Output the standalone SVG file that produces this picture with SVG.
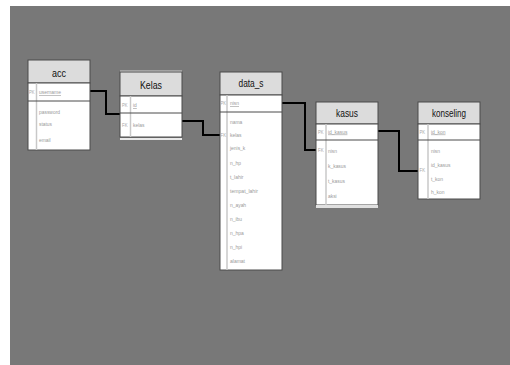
<svg xmlns="http://www.w3.org/2000/svg" width="510" height="365" viewBox="0 0 510 365">
<style>
.bg{fill:#787878}
.hd{fill:#dcdcdc;stroke:#4a4a4a;stroke-width:1}
.bd{fill:#ffffff;stroke:#4a4a4a;stroke-width:1}
.sep{stroke:#c8c8c8;stroke-width:1.5}
.ln{stroke:#4a4a4a;stroke-width:1}
.ht{font-family:"Liberation Sans Narrow","Liberation Sans",Arial,sans-serif;font-size:11px;fill:#111;text-anchor:middle}
.ft{font-family:"Liberation Sans Narrow","Liberation Sans",Arial,sans-serif;font-size:6px;fill:#9a9a9a}
.kt{font-family:"Liberation Sans Narrow","Liberation Sans",Arial,sans-serif;font-size:5px;fill:#a8a8a8}
.u{text-decoration:underline}
.cn{fill:none;stroke:#000;stroke-width:2}
</style>
<rect class="bg" x="10" y="6" width="500" height="359"/>
<g id="connectors">
<polyline class="cn" points="90,91 106,91 106,114 120,114"/>
<polyline class="cn" points="182,121 203,121 203,135 220,135"/>
<polyline class="cn" points="282,103 305,103 305,150 316,150"/>
<polyline class="cn" points="378,131 399,131 399,171 418,171"/>
</g>
<g id="acc">
<rect class="hd" x="28" y="60" width="62" height="23"/>
<text class="ht" x="59" y="77" textLength="14" lengthAdjust="spacingAndGlyphs">acc</text>
<rect class="bd" x="28" y="83" width="62" height="67"/>
<line class="sep" x1="36.5" y1="83" x2="36.5" y2="150"/>
<line class="ln" x1="28" y1="101" x2="90" y2="101"/>
<text class="kt" x="29" y="94" textLength="5.5" lengthAdjust="spacingAndGlyphs">PK</text>
<text class="ft u" x="39" y="94" textLength="22" lengthAdjust="spacingAndGlyphs">username</text>
<text class="ft" x="39" y="113.5" textLength="21" lengthAdjust="spacingAndGlyphs">password</text>
<text class="ft" x="39" y="126" textLength="13" lengthAdjust="spacingAndGlyphs">status</text>
<text class="ft" x="39" y="142" textLength="11.7" lengthAdjust="spacingAndGlyphs">email</text>
</g>
<g id="Kelas">
<rect x="120" y="70.5" width="62" height="2" fill="#d0d0d0"/>
<rect class="hd" x="120" y="72" width="62" height="24"/>
<text class="ht" x="151" y="89" textLength="22" lengthAdjust="spacingAndGlyphs">Kelas</text>
<rect class="bd" x="120" y="96" width="62" height="41"/>
<line class="sep" x1="130.5" y1="96" x2="130.5" y2="137"/>
<line class="ln" x1="120" y1="113" x2="182" y2="113"/>
<rect x="120" y="138" width="62" height="2" fill="#e8e8e8"/>
<text class="kt" x="122" y="107" textLength="5.5" lengthAdjust="spacingAndGlyphs">PK</text>
<text class="ft u" x="133" y="107" textLength="3.8" lengthAdjust="spacingAndGlyphs">id</text>
<text class="kt" x="122" y="127" textLength="5.5" lengthAdjust="spacingAndGlyphs">FK</text>
<text class="ft" x="133" y="127" textLength="11.5" lengthAdjust="spacingAndGlyphs">kelas</text>
</g>
<g id="data_s">
<rect class="hd" x="220" y="72" width="62" height="23"/>
<text class="ht" x="251" y="87" textLength="25" lengthAdjust="spacingAndGlyphs">data_s</text>
<rect class="bd" x="220" y="95" width="62" height="175"/>
<line class="sep" x1="227" y1="95" x2="227" y2="270"/>
<line class="ln" x1="220" y1="112" x2="282" y2="112"/>
<text class="kt" x="220.5" y="105" textLength="5.5" lengthAdjust="spacingAndGlyphs">PK</text>
<text class="ft u" x="230" y="105" textLength="9" lengthAdjust="spacingAndGlyphs">nisn</text>
<text class="ft" x="230" y="123.5" textLength="12.3" lengthAdjust="spacingAndGlyphs">nama</text>
<text class="kt" x="220.5" y="137" textLength="5.5" lengthAdjust="spacingAndGlyphs">FK</text>
<text class="ft" x="230" y="137" textLength="11.5" lengthAdjust="spacingAndGlyphs">kelas</text>
<text class="ft" x="230" y="150" textLength="15.3" lengthAdjust="spacingAndGlyphs">jenis_k</text>
<text class="ft" x="230" y="165" textLength="10.9" lengthAdjust="spacingAndGlyphs">n_hp</text>
<text class="ft" x="230" y="178.5" textLength="13.4" lengthAdjust="spacingAndGlyphs">t_lahir</text>
<text class="ft" x="230" y="192.5" textLength="28" lengthAdjust="spacingAndGlyphs">tempat_lahir</text>
<text class="ft" x="230" y="207" textLength="16.1" lengthAdjust="spacingAndGlyphs">n_ayah</text>
<text class="ft" x="230" y="221" textLength="12" lengthAdjust="spacingAndGlyphs">n_ibu</text>
<text class="ft" x="230" y="235" textLength="13.7" lengthAdjust="spacingAndGlyphs">n_hpa</text>
<text class="ft" x="230" y="249" textLength="12" lengthAdjust="spacingAndGlyphs">n_hpi</text>
<text class="ft" x="230" y="262.5" textLength="15" lengthAdjust="spacingAndGlyphs">alamat</text>
</g>
<g id="kasus">
<rect class="hd" x="316" y="102" width="62" height="22"/>
<text class="ht" x="347" y="116.5" textLength="22" lengthAdjust="spacingAndGlyphs">kasus</text>
<rect class="bd" x="316" y="124" width="62" height="81"/>
<line class="sep" x1="326" y1="124" x2="326" y2="205"/>
<line class="ln" x1="316" y1="140" x2="378" y2="140"/>
<rect x="316" y="205" width="62" height="3" fill="#e0e0e0"/>
<text class="kt" x="318" y="133.5" textLength="5.5" lengthAdjust="spacingAndGlyphs">PK</text>
<text class="ft u" x="328" y="133.5" textLength="19.4" lengthAdjust="spacingAndGlyphs">id_kasus</text>
<text class="kt" x="318" y="152" textLength="5.5" lengthAdjust="spacingAndGlyphs">FK</text>
<text class="ft" x="328" y="153" textLength="9" lengthAdjust="spacingAndGlyphs">nisn</text>
<text class="ft" x="328" y="168" textLength="18" lengthAdjust="spacingAndGlyphs">k_kasus</text>
<text class="ft" x="328" y="182.5" textLength="16.9" lengthAdjust="spacingAndGlyphs">t_kasus</text>
<text class="ft" x="328" y="197.5" textLength="8.7" lengthAdjust="spacingAndGlyphs">aksi</text>
</g>
<g id="konseling">
<rect class="hd" x="418" y="102" width="62" height="22"/>
<text class="ht" x="449" y="116.5" textLength="34" lengthAdjust="spacingAndGlyphs">konseling</text>
<rect class="bd" x="418" y="124" width="62" height="75"/>
<line class="sep" x1="428" y1="124" x2="428" y2="199"/>
<line class="ln" x1="418" y1="140" x2="480" y2="140"/>
<text class="kt" x="419.5" y="133.5" textLength="5.5" lengthAdjust="spacingAndGlyphs">PK</text>
<text class="ft u" x="431" y="133.5" textLength="14.5" lengthAdjust="spacingAndGlyphs">id_kon</text>
<text class="ft" x="431" y="153" textLength="9" lengthAdjust="spacingAndGlyphs">nisn</text>
<text class="kt" x="419.5" y="172" textLength="5.5" lengthAdjust="spacingAndGlyphs">FK</text>
<text class="ft" x="431" y="167" textLength="19.4" lengthAdjust="spacingAndGlyphs">id_kasus</text>
<text class="ft" x="431" y="181" textLength="12" lengthAdjust="spacingAndGlyphs">t_kon</text>
<text class="ft" x="431" y="194" textLength="13.4" lengthAdjust="spacingAndGlyphs">h_kon</text>
</g>
</svg>
